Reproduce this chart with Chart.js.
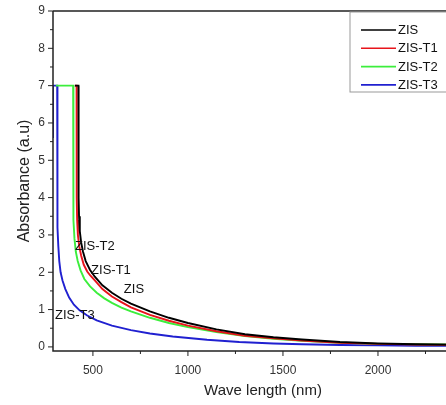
<!DOCTYPE html>
<html>
<head>
<meta charset="utf-8">
<script src="https://cdn.jsdelivr.net/npm/chart.js@4"></script>
<style>
  html, body { margin: 0; padding: 0; background: #fff; overflow: hidden; }
  #wrap { width: 480px; height: 405px; }
</style>
</head>
<body>
<div id="wrap"><canvas id="myChart" width="480" height="405"></canvas></div>
<script>
const seriesNames = ["ZIS", "ZIS-T1", "ZIS-T2", "ZIS-T3"];
const seriesColors = ["#000000", "#e8141b", "#3cee3c", "#2020d0"];

const zisWl = [405, 424, 424.5, 425, 427, 431, 438, 448, 462, 485, 510, 550, 600, 650, 700, 800, 900, 1000, 1150, 1300, 1450, 1600, 1800, 2000, 2200, 2500];
const zisAbs = [7, 7, 5, 4, 3.5, 3.1, 2.8, 2.55, 2.3, 2.06, 1.88, 1.65, 1.45, 1.29, 1.16, 0.95, 0.78, 0.64, 0.47, 0.34, 0.26, 0.2, 0.13, 0.09, 0.07, 0.05];

const t1Wl = [405, 414, 414.5, 415, 417, 421, 428, 438, 452, 470, 485, 510, 550, 600, 650, 700, 800, 900, 1000, 1150, 1300, 1450, 1600, 1800, 2000, 2200, 2500];
const t1Abs = [7, 7, 5, 4, 3.4, 3.0, 2.7, 2.45, 2.2, 2.02, 1.92, 1.78, 1.55, 1.35, 1.2, 1.06, 0.86, 0.7, 0.57, 0.42, 0.3, 0.23, 0.17, 0.11, 0.08, 0.06, 0.05];

const t2Wl = [305, 396, 396.5, 397, 399, 403, 410, 420, 435, 455, 485, 520, 560, 600, 650, 700, 800, 900, 1000, 1150, 1300, 1450, 1600, 1800, 2000, 2200, 2500];
const t2Abs = [7, 7, 5, 4, 3.4, 2.9, 2.55, 2.3, 2.05, 1.82, 1.62, 1.45, 1.3, 1.18, 1.05, 0.95, 0.78, 0.64, 0.53, 0.4, 0.29, 0.22, 0.16, 0.11, 0.08, 0.07, 0.06];

const t3Wl = [290, 290, 312, 312.5, 313, 315, 318, 323, 330, 340, 355, 375, 400, 430, 470, 520, 600, 700, 800, 920, 1100, 1270, 1450, 1600, 1800, 2000, 2200, 2500];
const t3Abs = [5.6, 7, 7, 5, 4, 3.2, 2.7, 2.3, 2.0, 1.78, 1.55, 1.32, 1.13, 0.98, 0.84, 0.71, 0.57, 0.45, 0.36, 0.28, 0.19, 0.13, 0.09, 0.07, 0.05, 0.04, 0.03, 0.03];

const xTickValues = [500, 1000, 1500, 2000];
const yTickValues = [0, 1, 2, 3, 4, 5, 6, 7, 8, 9];

const curveLabels = ["ZIS-T2", "ZIS-T1", "ZIS", "ZIS-T3"];
const curveLabelX = [510, 595, 716, 405];
const curveLabelY = [2.7, 2.06, 1.53, 0.83];

const font = "Arial, 'Liberation Sans', sans-serif";

function toPoints(wl, abs) {
  return wl.map((x, i) => ({ x: x, y: abs[i] }));
}

const allSeries = [
  toPoints(zisWl, zisAbs),
  toPoints(t1Wl, t1Abs),
  toPoints(t2Wl, t2Abs),
  toPoints(t3Wl, t3Abs),
];

// frame, tick marks, curve labels and legend box
const decorations = {
  id: "decorations",
  afterDraw(chart) {
    const { ctx, chartArea, scales } = chart;
    const xs = scales.x;
    const ys = scales.y;
    ctx.save();
    ctx.strokeStyle = "#222";
    ctx.lineWidth = 1.5;
    ctx.beginPath();
    ctx.moveTo(chartArea.left, chartArea.top);
    ctx.lineTo(chartArea.left, chartArea.bottom);
    ctx.lineTo(chartArea.right, chartArea.bottom);
    ctx.moveTo(chartArea.left, chartArea.top);
    ctx.lineTo(chartArea.right, chartArea.top);
    ctx.stroke();

    ctx.lineWidth = 1;
    for (let v = 250; v <= 2500; v += 250) {
      if (v < xs.min) continue;
      const px = xs.getPixelForValue(v);
      const len = v % 500 === 0 ? 5 : 3;
      ctx.beginPath();
      ctx.moveTo(px, chartArea.bottom);
      ctx.lineTo(px, chartArea.bottom + len);
      ctx.stroke();
    }
    for (let v = 0; v <= 9; v += 0.5) {
      const py = ys.getPixelForValue(v);
      const len = Number.isInteger(v) ? 5 : 3;
      ctx.beginPath();
      ctx.moveTo(chartArea.left, py);
      ctx.lineTo(chartArea.left - len, py);
      ctx.stroke();
    }

    ctx.fillStyle = "#111";
    ctx.font = "13px " + font;
    ctx.textAlign = "center";
    ctx.textBaseline = "middle";
    curveLabels.forEach((t, i) => {
      ctx.fillText(t, xs.getPixelForValue(curveLabelX[i]), ys.getPixelForValue(curveLabelY[i]));
    });

    const lx = 350, ly = chartArea.top + 1;
    ctx.strokeStyle = "#999";
    ctx.lineWidth = 1;
    ctx.strokeRect(lx, ly, 130, 80);
    ctx.textAlign = "left";
    ctx.font = "13px " + font;
    seriesNames.forEach((name, i) => {
      const y = 30 + i * 18.3;
      ctx.strokeStyle = seriesColors[i];
      ctx.lineWidth = 1.6;
      ctx.beginPath();
      ctx.moveTo(361, y);
      ctx.lineTo(396, y);
      ctx.stroke();
      ctx.fillStyle = "#111";
      ctx.fillText(name, 398, y + 0.5);
    });
    ctx.restore();
  },
};

const ctx = document.getElementById("myChart");

new Chart(ctx, {
  type: "line",
  data: {
    datasets: allSeries.map((pts, i) => ({
      label: seriesNames[i],
      data: pts,
      borderColor: seriesColors[i],
      borderWidth: 1.9,
      pointRadius: 0,
      tension: 0,
      fill: false,
    })),
  },
  options: {
    responsive: false,
    animation: false,
    layout: { padding: { top: 0, right: 7, left: 0, bottom: 0 } },
    plugins: {
      legend: { display: false },
      tooltip: { enabled: false },
    },
    scales: {
      x: {
        type: "linear",
        min: 290,
        max: 2500,
        afterBuildTicks: (scale) => {
          scale.ticks = xTickValues.map((v) => ({ value: v }));
        },
        afterFit: (scale) => {
          scale.height = 54;
        },
        grid: { display: false, drawTicks: false },
        border: { display: false },
        ticks: {
          color: "#333",
          font: { family: font, size: 12 },
          padding: 12,
          maxRotation: 0,
          callback: (v) => String(v),
        },
        title: {
          display: true,
          text: "Wave length (nm)",
          color: "#222",
          font: { family: font, size: 15 },
          padding: { top: 0, bottom: 5 },
        },
      },
      y: {
        min: -0.11,
        max: 9,
        afterBuildTicks: (scale) => {
          scale.ticks = yTickValues.map((v) => ({ value: v }));
        },
        afterFit: (scale) => {
          scale.width = 53;
          scale.paddingTop = 11;
          scale.paddingBottom = 0;
        },
        grid: { display: false, drawTicks: false },
        border: { display: false },
        ticks: {
          color: "#333",
          font: { family: font, size: 12 },
          padding: 8,
          callback: (v) => String(v),
        },
        title: {
          display: true,
          text: "Absorbance (a.u)",
          color: "#222",
          font: { family: font, size: 16 },
          padding: { top: 15, bottom: 0 },
        },
      },
    },
  },
  plugins: [decorations],
});
</script>
</body>
</html>
